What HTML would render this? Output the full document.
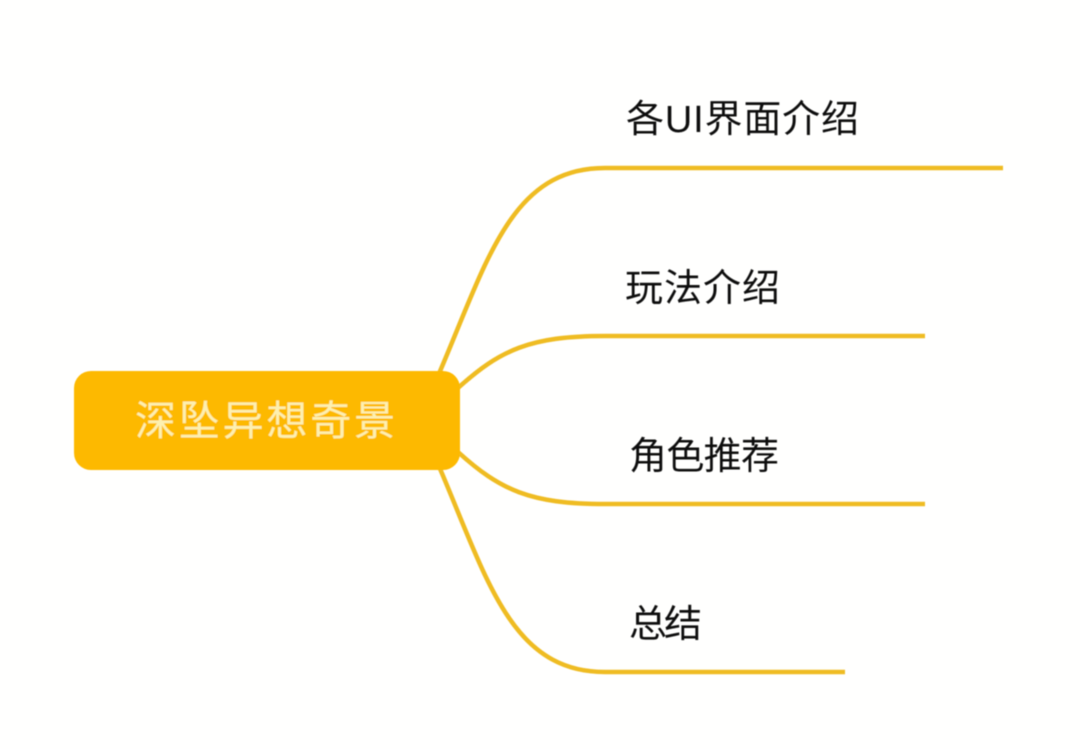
<!DOCTYPE html>
<html lang="zh">
<head>
<meta charset="utf-8">
<style>
html,body{margin:0;padding:0;background:#fff;}
body{width:1080px;height:749px;overflow:hidden;position:relative;}
svg{position:absolute;left:0;top:0;}
text{font-family:"Liberation Sans","WenQuanYi Zen Hei","Noto Sans CJK SC",sans-serif;}
</style>
</head>
<body>
<svg width="1080" height="749" viewBox="0 0 1080 749" xmlns="http://www.w3.org/2000/svg">
<defs><filter id="soft" x="-5%" y="-5%" width="110%" height="110%"><feGaussianBlur stdDeviation="0.45"/></filter></defs>
<rect width="1080" height="749" fill="#fffffe"/>
<g filter="url(#soft)">
<g fill="none" stroke="#efbc22" stroke-width="4.5" stroke-linecap="butt">
<path d="M438 376 C487 262 510 168 605 168 L1003 168"/>
<path d="M458 388 C500 350 530 336 605 336 L925 336"/>
<path d="M458 452 C500 490 530 504 605 504 L925 504"/>
<path d="M438 464 C487 578 510 672 605 672 L845 672"/>
</g>
<rect x="74" y="371" width="386" height="99" rx="17" fill="#fdb905"/>
<text x="135" y="435" font-size="41" fill="#fdf0b0" textLength="260" lengthAdjust="spacing">深坠异想奇景</text>
<text x="626" y="132" font-size="38" fill="#111" textLength="233" lengthAdjust="spacing">各UI界面介绍</text>
<text x="625" y="301" font-size="38" fill="#111" textLength="155" lengthAdjust="spacing">玩法介绍</text>
<text x="629" y="469" font-size="38" fill="#111" textLength="150" lengthAdjust="spacing">角色推荐</text>
<text x="629" y="637" font-size="38" fill="#111" textLength="73" lengthAdjust="spacing">总结</text>
</g>
</svg>
</body>
</html>
